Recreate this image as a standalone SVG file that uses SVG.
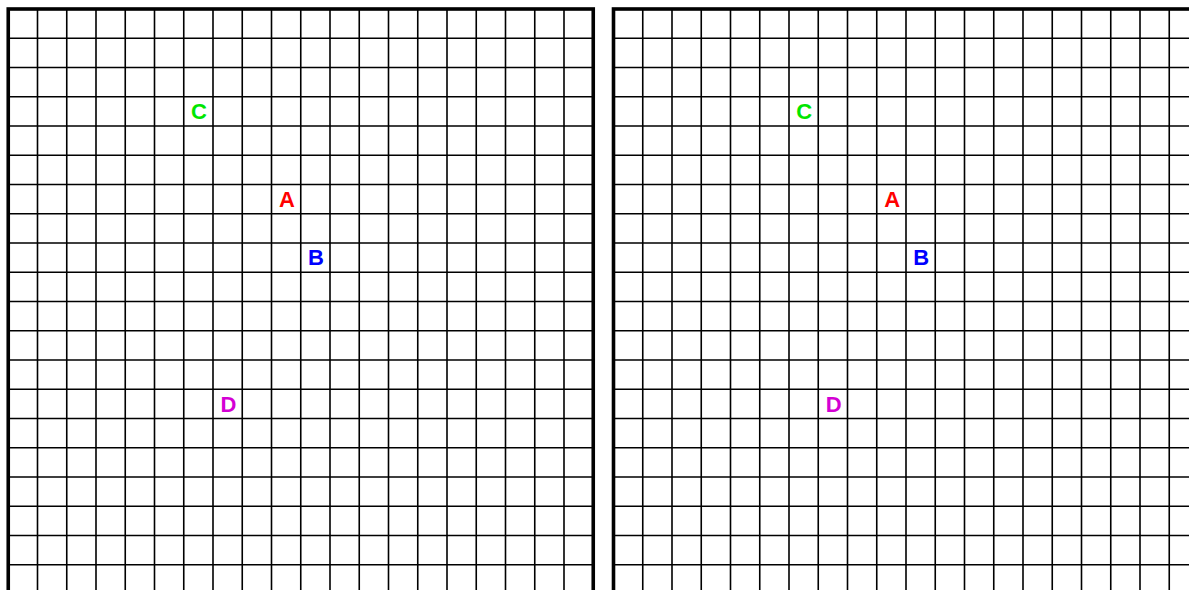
<svg xmlns="http://www.w3.org/2000/svg" xmlns:xlink="http://www.w3.org/1999/xlink" width="1189" height="590" viewBox="0 0 1189 590">
<style>
.grid{fill:none;stroke:#000;stroke-width:1.6}
.border{fill:none;stroke:#000;stroke-width:3.6}
.lbl{font-family:"Liberation Sans",Arial,sans-serif;font-weight:bold;font-size:22px;text-anchor:middle}
</style>
<defs>
<g id="panel">
<path class="grid" d="M29.25 0V585M58.5 0V585M87.75 0V585M117 0V585M146.25 0V585M175.5 0V585M204.75 0V585M234 0V585M263.25 0V585M292.5 0V585M321.75 0V585M351 0V585M380.25 0V585M409.5 0V585M438.75 0V585M468 0V585M497.25 0V585M526.5 0V585M555.75 0V585M0 29.25H585M0 58.5H585M0 87.75H585M0 117H585M0 146.25H585M0 175.5H585M0 204.75H585M0 234H585M0 263.25H585M0 292.5H585M0 321.75H585M0 351H585M0 380.25H585M0 409.5H585M0 438.75H585M0 468H585M0 497.25H585M0 526.5H585M0 555.75H585"/>
<rect class="border" x="0" y="0" width="585" height="585"/>
</g>
</defs>
<g id="panel-left"><use xlink:href="#panel" href="#panel" transform="translate(8.25,9)"/></g>
<g id="panel-right"><use xlink:href="#panel" href="#panel" transform="translate(613.5,9)"/></g>
<g id="connectors"/>
<g id="C-left"><text class="lbl" x="199" y="118.8" fill="#00e600">C</text></g>
<g id="A-left"><text class="lbl" x="287" y="206.8" fill="#ff0000">A</text></g>
<g id="B-left"><text class="lbl" x="316" y="264.8" fill="#0000ff">B</text></g>
<g id="D-left"><text class="lbl" x="228.5" y="411.8" fill="#d400d4">D</text></g>
<g id="C-right"><text class="lbl" x="804.25" y="118.8" fill="#00e600">C</text></g>
<g id="A-right"><text class="lbl" x="892.25" y="206.8" fill="#ff0000">A</text></g>
<g id="B-right"><text class="lbl" x="921.25" y="264.8" fill="#0000ff">B</text></g>
<g id="D-right"><text class="lbl" x="833.75" y="411.8" fill="#d400d4">D</text></g>
</svg>
